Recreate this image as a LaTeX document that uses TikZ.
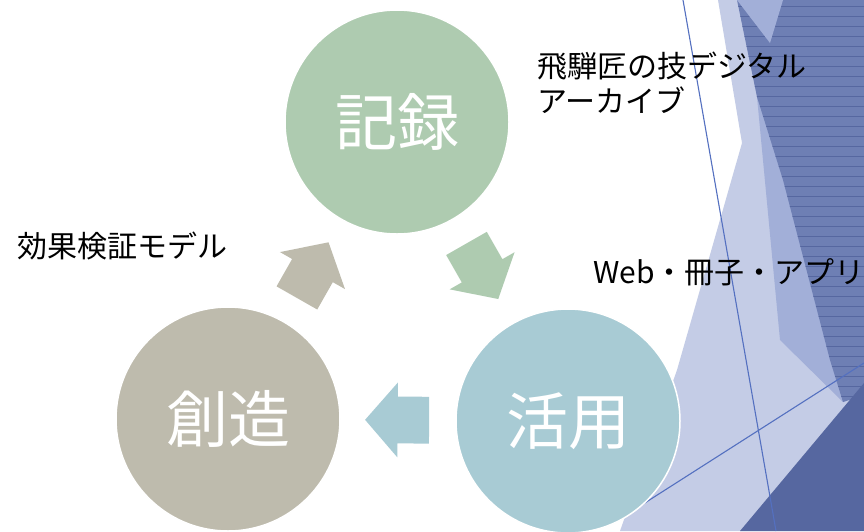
\documentclass[tikz,border=0pt]{standalone}
\usepackage{fontspec}
\newfontfamily\jpfont{Noto Sans CJK JP}
\usetikzlibrary{shapes,arrows,positioning}

\definecolor{kirokugreen}{RGB}{174,203,176}
\definecolor{sozogray}{RGB}{190,187,173}
\definecolor{katsuyoblue}{RGB}{168,203,212}
\definecolor{facetlight}{RGB}{196,204,230}
\definecolor{facetmid}{RGB}{162,175,216}
\definecolor{facetdark}{RGB}{110,127,180}
\definecolor{facetdeep}{RGB}{86,103,160}
\definecolor{facetline}{RGB}{84,112,192}

\begin{document}
\begin{tikzpicture}[x=1pt, y=-1pt, thick]
    \tikzstyle{stage} = [circle, draw=white, line width=1.5pt, minimum size=224pt, inner sep=0pt, text=white, font=\jpfont\fontsize{62}{62}\selectfont]
    \tikzstyle{cycle} = [single arrow, sloped, allow upside down, pos=0.225, anchor=tail, draw=none, minimum height=64pt, inner xsep=0pt, inner ysep=23pt, single arrow head extend=14pt, single arrow tip angle=98]
    \tikzstyle{note} = [font=\jpfont\fontsize{30}{35}\selectfont, inner sep=0pt, align=left]
    \tikzstyle{thread} = [draw=facetline, line width=1.1pt]
    \tikzstyle{stripe} = [draw=facetdeep, line width=0.6pt]

    \fill[white] (0,0) rectangle (864,531);
    \useasboundingbox (0,0) rectangle (864,531);

    \fill[facetlight] (718,0) -- (742,143) -- (677,370) -- (620,531) -- (864,531) -- (864,0) -- cycle;
    \fill[facetmid] (757,97) -- (780,340) -- (843,402) -- (864,395) -- (864,97) -- cycle;
    \fill[facetdark] (737,0) -- (757,97) -- (783,180) -- (830,360) -- (843,402) -- (864,395) -- (864,0) -- cycle;
    \begin{scope}
        \clip (737,0) -- (757,97) -- (783,180) -- (830,360) -- (843,402) -- (864,395) -- (864,0) -- cycle;
        \foreach \y in {6,16,...,406}
            \draw[stripe] (730,\y) -- (864,\y);
    \end{scope}
    \fill[facetmid] (737,0) -- (783,0) -- (770,43) -- cycle;
    \fill[facetdeep] (740,531) -- (864,383) -- (864,531) -- cycle;
    \draw[thread] (683,0) -- (776,531);
    \draw[thread] (640,506) -- (864,363);

    \node [stage, fill=kirokugreen] (kiroku) at (397,122) {\raisebox{4pt}{記録}};
    \node [stage, fill=sozogray] (sozo) at (228,419) {\raisebox{4pt}{創造}};
    \node [stage, fill=katsuyoblue] (katsuyo) at (568,421) {\raisebox{4pt}{活用}};

    \path (sozo) -- node [cycle, fill=sozogray] (toKiroku) {} (kiroku);
    \path (kiroku) -- node [cycle, fill=kirokugreen] (toKatsuyo) {} (katsuyo);
    \path (katsuyo) -- node [cycle, fill=katsuyoblue] (toSozo) {} (sozo);

    \node [note, anchor=north west] (archive) at (537,52) {飛騨匠の技デジタル\\アーカイブ};
    \node [note, anchor=west] (model) at (17,246) {効果検証モデル};
    \node [note, anchor=west] (media) at (593,272) {Web・冊子・アプリ};
\end{tikzpicture}
\end{document}
